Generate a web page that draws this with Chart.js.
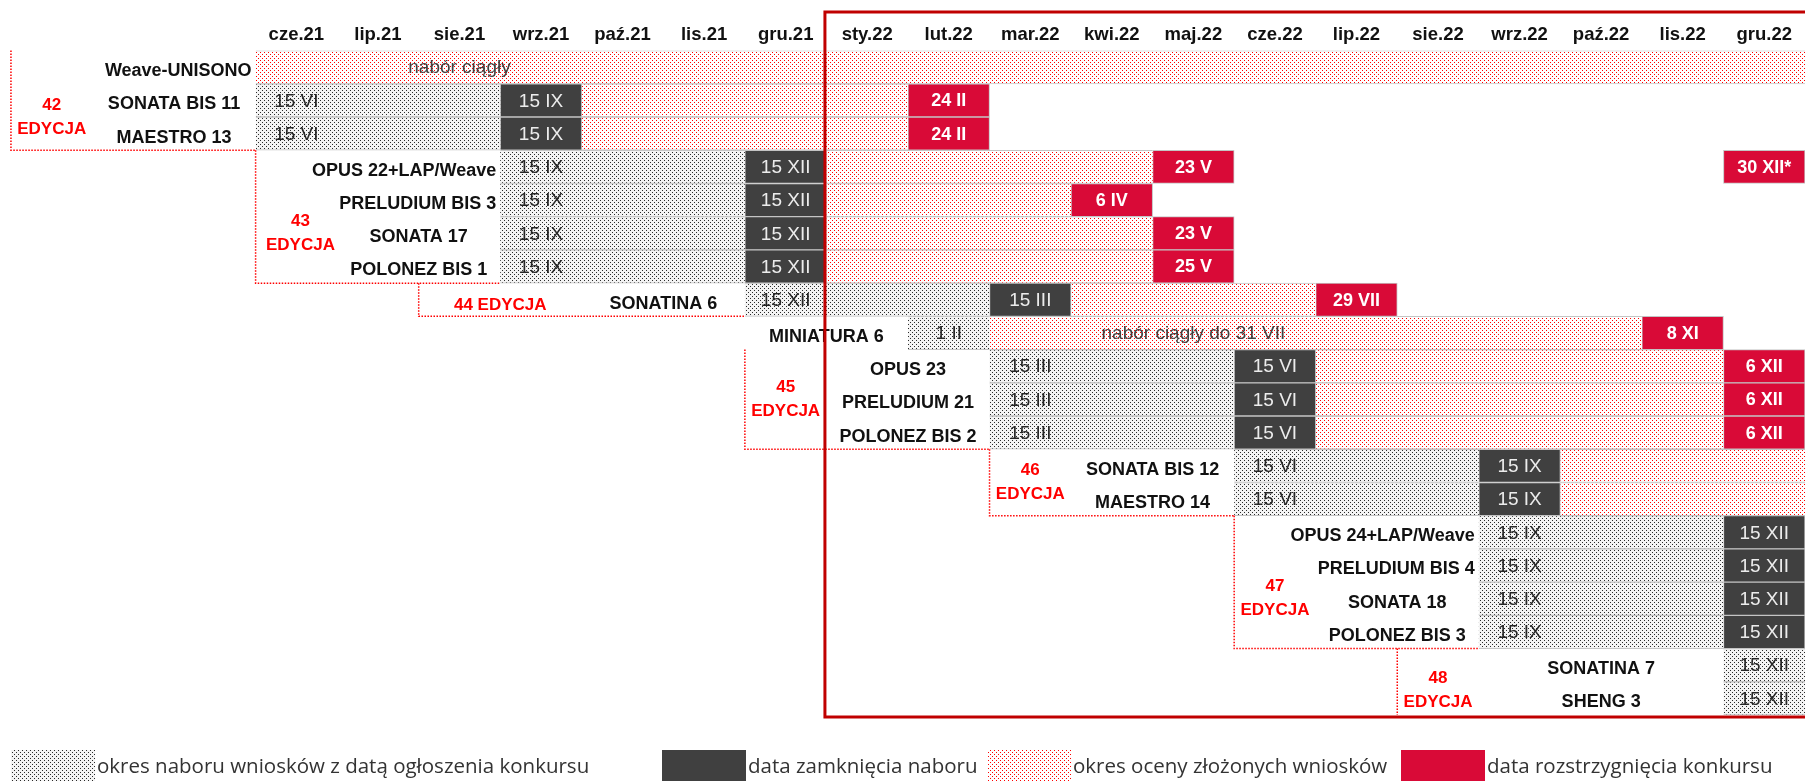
<!DOCTYPE html>
<html>
<head>
<meta charset="utf-8">
<script src="https://cdn.jsdelivr.net/npm/chart.js@4.4.1/dist/chart.umd.min.js"></script>
<style>
  html, body { margin: 0; padding: 0; background: #fff; }
  canvas { display: block; }
</style>
</head>
<body>
<canvas id="harmonogram" width="1805" height="781"></canvas>
<script>
// months on the axis: index 0 = cze.21 ... 18 = gru.22
const months = ['cze.21', 'lip.21', 'sie.21', 'wrz.21', 'paź.21', 'lis.21', 'gru.21', 'sty.22', 'lut.22',
  'mar.22', 'kwi.22', 'maj.22', 'cze.22', 'lip.22', 'sie.22', 'wrz.22', 'paź.22', 'lis.22', 'gru.22'];

const programmes = ['Weave-UNISONO', 'SONATA BIS 11', 'MAESTRO 13', 'OPUS 22+LAP/Weave', 'PRELUDIUM BIS 3',
  'SONATA 17', 'POLONEZ BIS 1', 'SONATINA 6', 'MINIATURA 6', 'OPUS 23', 'PRELUDIUM 21', 'POLONEZ BIS 2',
  'SONATA BIS 12', 'MAESTRO 14', 'OPUS 24+LAP/Weave', 'PRELUDIUM BIS 4', 'SONATA 18', 'POLONEZ BIS 3',
  'SONATINA 7', 'SHENG 3'];

const editions = ['42', '43', '44', '45', '46', '47', '48'];

// [start month, end month] per programme
const recruitment = [null, [0, 3], [0, 3], [3, 6], [3, 6], [3, 6], [3, 6], [6, 9], [8, 9], [9, 12], [9, 12], [9, 12],
  [12, 15], [12, 15], [15, 18], [15, 18], [15, 18], [15, 18], [18, 19], [18, 19]];
const recruitmentText = [null, '15 VI', '15 VI', '15 IX', '15 IX', '15 IX', '15 IX', '15 XII', '1 II', '15 III', '15 III',
  '15 III', '15 VI', '15 VI', '15 IX', '15 IX', '15 IX', '15 IX', '15 XII', '15 XII'];

const closing = [null, [3, 4], [3, 4], [6, 7], [6, 7], [6, 7], [6, 7], [9, 10], null, [12, 13], [12, 13], [12, 13],
  [15, 16], [15, 16], [18, 19], [18, 19], [18, 19], [18, 19], null, null];
const closingText = [null, '15 IX', '15 IX', '15 XII', '15 XII', '15 XII', '15 XII', '15 III', null, '15 VI', '15 VI',
  '15 VI', '15 IX', '15 IX', '15 XII', '15 XII', '15 XII', '15 XII', null, null];

const evaluation = [[0, 19], [4, 8], [4, 8], [7, 11], [7, 10], [7, 11], [7, 11], [10, 13], [9, 17], [13, 18], [13, 18],
  [13, 18], [16, 19], [16, 19], null, null, null, null, null, null];
const evaluationText = ['nabór ciągły', null, null, null, null, null, null, null, 'nabór ciągły do 31 VII', null, null,
  null, null, null, null, null, null, null, null, null];

const decision = [null, [8, 9], [8, 9], [11, 12], [10, 11], [11, 12], [11, 12], [13, 14], [17, 18], [18, 19], [18, 19],
  [18, 19], null, null, null, null, null, null, null, null];
const decisionText = [null, '24 II', '24 II', '23 V', '6 IV', '23 V', '25 V', '29 VII', '8 XI', '6 XII', '6 XII', '6 XII',
  null, null, null, null, null, null, null, null];

const extraDecision = [null, null, null, [18, 19], null, null, null, null, null, null, null, null, null, null, null,
  null, null, null, null, null];
const extraDecisionText = [null, null, null, '30 XII*', null, null, null, null, null, null, null, null, null, null, null,
  null, null, null, null, null];

// label placement (in month units on the x scale)
const rowLabelAt = [[0, 'right'], [-1, 'center'], [-1, 'center'], [3, 'right'], [3, 'right'], [2, 'center'], [2, 'center'],
  [5, 'center'], [7, 'center'], [8, 'center'], [8, 'center'], [8, 'center'], [11, 'center'], [11, 'center'],
  [15, 'right'], [15, 'right'], [14, 'center'], [14, 'center'], [16.5, 'center'], [16.5, 'center']];
const evaluationTextAt = { 0: 2.5, 8: 11.5 };
const editionBoxes = [
  { left: -3, rows: [0, 2], bottomTo: 0, textX: -2.5, textRow: 1.5 },
  { left: 0, rows: [3, 6], bottomTo: 3, textX: 0.55, textRow: 5.0 },
  { left: 2, rows: [7, 7], bottomTo: 6, textX: 3, textRow: 7, oneLine: true },
  { left: 6, rows: [9, 11], bottomTo: 9, textX: 6.5, textRow: 10.0 },
  { left: 9, rows: [12, 13], bottomTo: 12, textX: 9.5, textRow: 12.5 },
  { left: 12, rows: [14, 17], bottomTo: 15, textX: 12.5, textRow: 16.0 },
  { left: 14, rows: [18, 19], bottomTo: null, textX: 14.5, textRow: 18.75 }
];
const legendX = [11, 662, 987, 1401];

const canvas = document.getElementById('harmonogram');
const ctx = canvas.getContext('2d');

function dots(bg, dot) {
  const c = document.createElement('canvas');
  c.width = 4; c.height = 4;
  const g = c.getContext('2d');
  g.fillStyle = bg; g.fillRect(0, 0, 4, 4);
  g.fillStyle = dot; g.fillRect(0, 0, 1, 1); g.fillRect(2, 2, 1, 1);
  return ctx.createPattern(c, 'repeat');
}

const greyDots = dots('#f4f4f4', '#2a2a2a');
const pinkDots = dots('#ffffff', '#ff0000');

const ganttExtras = {
  id: 'ganttExtras',
  afterDatasetsDraw(chart) {
    const { ctx, scales: { x } } = chart;
    ctx.save();
    ctx.textAlign = 'center';
    ctx.textBaseline = 'middle';
    chart.data.datasets.forEach((ds, di) => {
      const meta = chart.getDatasetMeta(di);
      meta.data.forEach((bar, i) => {
        const txt = ds.texts[i];
        const v = ds.data[i];
        if (!txt || !v) return;
        let cx = (bar.x + bar.base) / 2;
        if (ds.textAnchor === 'first') cx = x.getPixelForValue(v[0] + 0.5);
        if (ds.textAnchor === 'note') cx = x.getPixelForValue(evaluationTextAt[i]);
        ctx.font = ds.textFont;
        ctx.fillStyle = ds.textColor;
        ctx.fillText(txt, cx, bar.y + 1);
      });
    });
    ctx.restore();
  },
  afterDraw(chart) {
    const { ctx, scales: { x, y }, chartArea } = chart;
    ctx.save();

    // programme names
    ctx.font = 'bold 18px "Liberation Sans"';
    ctx.fillStyle = '#111';
    ctx.textBaseline = 'middle';
    programmes.forEach((name, i) => {
      const [m, align] = rowLabelAt[i];
      ctx.textAlign = align;
      ctx.fillText(name, x.getPixelForValue(m) - (align === 'right' ? 4 : 0), y.getPixelForValue(i) + 4);
    });

    // edition groups
    ctx.strokeStyle = '#ff0000';
    ctx.lineWidth = 1.5;
    ctx.setLineDash([1.5, 1.5]);
    ctx.fillStyle = '#ff0000';
    ctx.font = 'bold 17px "Liberation Sans"';
    ctx.textAlign = 'center';
    editionBoxes.forEach((b, k) => {
      const lx = x.getPixelForValue(b.left);
      const top = y.getPixelForValue(b.rows[0] - 0.5);
      const bottom = y.getPixelForValue(b.rows[1] + 0.5);
      ctx.beginPath();
      ctx.moveTo(lx, top);
      ctx.lineTo(lx, bottom);
      if (b.bottomTo !== null) ctx.lineTo(x.getPixelForValue(b.bottomTo), bottom);
      ctx.stroke();
      const tx = x.getPixelForValue(b.textX);
      const ty = y.getPixelForValue(b.textRow);
      if (b.oneLine) {
        ctx.fillText(editions[k] + ' EDYCJA', tx, ty + 6);
      } else {
        ctx.fillText(editions[k], tx, ty - 12);
        ctx.fillText('EDYCJA', tx, ty + 12);
      }
    });
    ctx.setLineDash([]);

    // frame around 2022
    ctx.strokeStyle = '#c00000';
    ctx.lineWidth = 3;
    const fx = x.getPixelForValue(7) - 1.5;
    ctx.strokeRect(fx, 12, chart.width + 10 - fx, chartArea.bottom + 2 - 12);

    // legend
    ctx.font = '20.5px "Open Sans"';
    ctx.textAlign = 'left';
    ctx.textBaseline = 'middle';
    chart.data.datasets.slice(0, 4).forEach((ds, i) => {
      ctx.fillStyle = ds.backgroundColor;
      ctx.fillRect(legendX[i], 750, 84, 40);
      ctx.fillStyle = '#333';
      ctx.fillText(ds.label, legendX[i] + 86, 767);
    });
    ctx.restore();
  }
};

const barBase = {
  grouped: false,
  barPercentage: 1,
  categoryPercentage: 1,
  borderSkipped: false,
  borderColor: '#c4c4c4'
};

new Chart(ctx, {
  type: 'bar',
  data: {
    labels: programmes,
    datasets: [
      { ...barBase, label: 'okres naboru wniosków z datą ogłoszenia konkursu', data: recruitment, texts: recruitmentText,
        backgroundColor: greyDots, borderWidth: { top: 1, bottom: 1, left: 0, right: 0 },
        textAnchor: 'first', textFont: '19px "Liberation Sans"', textColor: '#262626' },
      { ...barBase, label: 'data zamknięcia naboru', data: closing, texts: closingText,
        backgroundColor: '#404040', borderWidth: 1,
        textFont: '19px "Liberation Sans"', textColor: '#ececec' },
      { ...barBase, label: 'okres oceny złożonych wniosków', data: evaluation, texts: evaluationText,
        backgroundColor: pinkDots, borderWidth: { top: 1, bottom: 1, left: 0, right: 0 },
        textAnchor: 'note', textFont: '19px "Liberation Sans"', textColor: '#404040' },
      { ...barBase, label: 'data rozstrzygnięcia konkursu', data: decision, texts: decisionText,
        backgroundColor: '#d90a37', borderWidth: 1,
        textFont: 'bold 18px "Liberation Sans"', textColor: '#ffffff' },
      { ...barBase, label: 'data rozstrzygnięcia konkursu', data: extraDecision, texts: extraDecisionText,
        backgroundColor: '#d90a37', borderWidth: 1,
        textFont: 'bold 18px "Liberation Sans"', textColor: '#ffffff' }
    ]
  },
  options: {
    indexAxis: 'y',
    responsive: false,
    animation: false,
    layout: { padding: { left: 255.6, right: 0, top: 18.4, bottom: 66 } },
    scales: {
      x: {
        type: 'linear',
        position: 'top',
        min: 0,
        max: 19,
        grid: { display: false, drawTicks: false },
        border: { display: false },
        afterBuildTicks: scale => { scale.ticks = months.map((m, i) => ({ value: i + 0.5 })); },
        ticks: {
          autoSkip: false,
          maxRotation: 0,
          padding: 5,
          color: '#111',
          font: { family: 'Liberation Sans', size: 18.5, weight: 'bold' },
          callback: (value, index) => months[index]
        }
      },
      y: { display: false }
    },
    plugins: {
      legend: { display: false },
      tooltip: { enabled: false }
    }
  },
  plugins: [ganttExtras]
});
</script>
</body>
</html>
